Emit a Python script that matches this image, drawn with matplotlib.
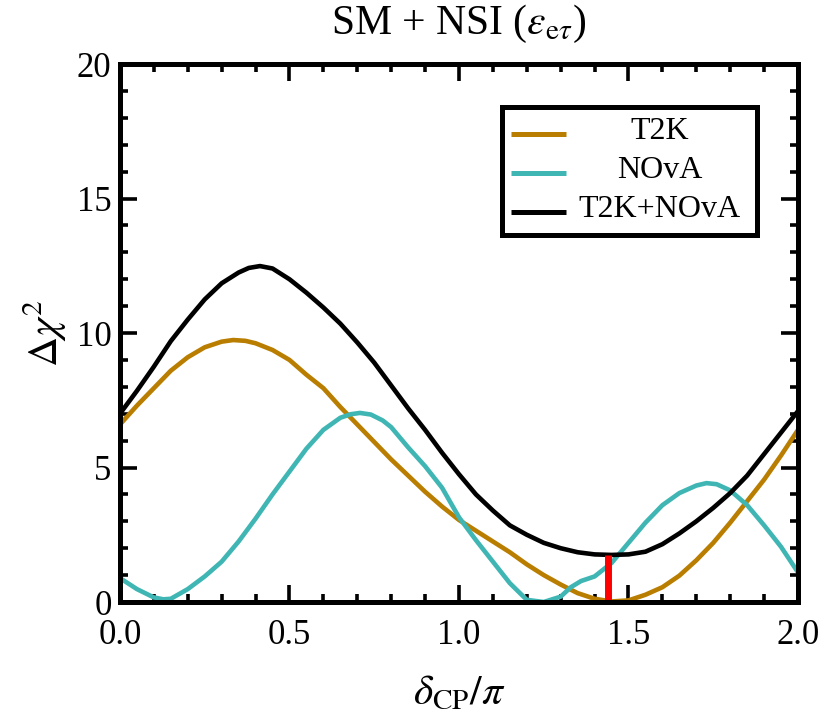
import matplotlib
matplotlib.use('Agg')
import matplotlib.pyplot as plt
from matplotlib.ticker import MultipleLocator, FormatStrFormatter
from matplotlib.patches import Rectangle

plt.rcParams['font.family'] = ['Liberation Serif', 'DejaVu Serif']
plt.rcParams['mathtext.fontset'] = 'stix'

# delta_CP/pi grid and Delta chi^2 values
x_t2k = [0.0, 0.05, 0.1, 0.15, 0.2, 0.25, 0.3, 0.334, 0.37, 0.4, 0.45, 0.5, 0.55, 0.6,
         0.65, 0.7, 0.75, 0.8, 0.85, 0.9, 0.95, 1.0, 1.05, 1.1, 1.15, 1.2, 1.25,
         1.3, 1.35, 1.4, 1.45, 1.5, 1.55, 1.6, 1.65, 1.7, 1.75, 1.8, 1.85, 1.9,
         1.95, 2.0]
y_t2k = [6.6, 7.3, 7.95, 8.6, 9.1, 9.47, 9.68, 9.74, 9.71, 9.62, 9.37, 9.0, 8.45, 7.95,
         7.25, 6.6, 5.95, 5.3, 4.7, 4.1, 3.55, 3.05, 2.65, 2.25, 1.85, 1.4, 1.0,
         0.65, 0.33, 0.12, 0.02, 0.06, 0.27, 0.55, 0.98, 1.55, 2.2, 2.95, 3.75, 4.55,
         5.45, 6.4]

x_nova = [0.0, 0.05, 0.1, 0.128, 0.15, 0.2, 0.25, 0.3, 0.35, 0.4, 0.45, 0.5, 0.55,
          0.6, 0.65, 0.68, 0.708, 0.74, 0.775, 0.8, 0.85, 0.9, 0.95, 1.0, 1.05, 1.1,
          1.15, 1.2, 1.25, 1.3, 1.33, 1.36, 1.4, 1.45, 1.5, 1.55, 1.6, 1.65, 1.7,
          1.73, 1.76, 1.8, 1.85, 1.9, 1.95, 2.0]
y_nova = [0.89, 0.48, 0.17, 0.1, 0.12, 0.48, 0.95, 1.5, 2.25, 3.1, 4.0, 4.85, 5.7,
          6.4, 6.85, 6.98, 7.03, 6.97, 6.75, 6.5, 5.75, 5.05, 4.25, 3.15, 2.3, 1.5,
          0.7, 0.08, 0.0, 0.2, 0.55, 0.78, 0.95, 1.45, 2.2, 2.95, 3.6, 4.05, 4.33,
          4.42, 4.38, 4.15, 3.6, 2.85, 2.05, 1.1]

x_comb = [0.0, 0.05, 0.1, 0.15, 0.2, 0.25, 0.3, 0.35, 0.38, 0.413, 0.45, 0.5, 0.55, 0.6,
          0.65, 0.7, 0.75, 0.8, 0.85, 0.9, 0.95, 1.0, 1.05, 1.1, 1.15, 1.2, 1.25,
          1.3, 1.35, 1.4, 1.45, 1.5, 1.55, 1.6, 1.65, 1.7, 1.75, 1.8, 1.85, 1.9,
          1.95, 2.0]
y_comb = [7.0, 7.85, 8.75, 9.7, 10.5, 11.25, 11.85, 12.25, 12.42, 12.49, 12.4, 12.0, 11.5,
          10.95, 10.35, 9.65, 8.9, 8.05, 7.2, 6.4, 5.55, 4.75, 4.0, 3.4, 2.85, 2.5, 2.2,
          2.0, 1.85, 1.77, 1.75, 1.77, 1.87, 2.15, 2.55, 3.0, 3.5, 4.05, 4.7, 5.5,
          6.3, 7.1]

labels = ['T2K', 'NOvA', 'T2K+NOvA']
colors = ['#b97d00', '#3fb6b4', 'black']

# best-fit marker of the combined fit
bf_x = 1.44
bf_y = 1.75

fig = plt.figure(figsize=(8.33, 7.24), dpi=100)
ax = fig.add_axes([0.144, 0.1685, 0.814, 0.743])

for xs, ys, c in zip([x_t2k, x_nova, x_comb], [y_t2k, y_nova, y_comb], colors):
    ax.plot(xs, ys, color=c, lw=3.3, solid_joinstyle='round')
ax.plot([bf_x, bf_x], [0, bf_y], color='#ff0000', lw=5, solid_capstyle='butt')

ax.set_xlim(0, 2)
ax.set_ylim(0, 20)
ax.xaxis.set_major_locator(MultipleLocator(0.5))
ax.xaxis.set_minor_locator(MultipleLocator(0.1))
ax.yaxis.set_major_locator(MultipleLocator(5))
ax.yaxis.set_minor_locator(MultipleLocator(1))
ax.xaxis.set_major_formatter(FormatStrFormatter('%.1f'))
ax.tick_params(which='both', direction='in', top=True, right=True, width=2.6, labelsize=25)
ax.tick_params(which='major', length=12)
ax.tick_params(which='minor', length=6)
ax.tick_params(axis='x', which='major', pad=12)
ax.tick_params(axis='y', which='major', pad=6)
for sp in ax.spines.values():
    sp.set_linewidth(3.6)

ax.set_xlabel(r'$\delta_{\rm CP}/\pi$', fontsize=30)
ax.xaxis.set_label_coords(0.5, -0.135)
ax.set_ylabel(r'$\Delta\chi^2$', fontsize=30)
ax.yaxis.set_label_coords(-0.075, 0.5)
ax.set_title(r'SM + NSI ($\varepsilon_{{\rm e}\tau}$)', fontsize=30, pad=22)

# legend box drawn by hand so the labels can be centred like the original
ax.add_patch(Rectangle((0.563, 0.682), 0.377, 0.238, transform=ax.transAxes,
                       facecolor='white', edgecolor='black', lw=3.6, zorder=5))
rows = [0.870, 0.797, 0.725]
bases = [0.861, 0.788, 0.716]
for lab, c, yr, yb in zip(labels, colors, rows, bases):
    ax.plot([0.577, 0.658], [yr, yr], transform=ax.transAxes, color=c, lw=3.6,
            solid_capstyle='butt', zorder=6)
    ax.text(0.796, yb, lab, transform=ax.transAxes, ha='center', va='baseline',
            fontsize=23, zorder=6)

fig.savefig('out.png', dpi=100)
